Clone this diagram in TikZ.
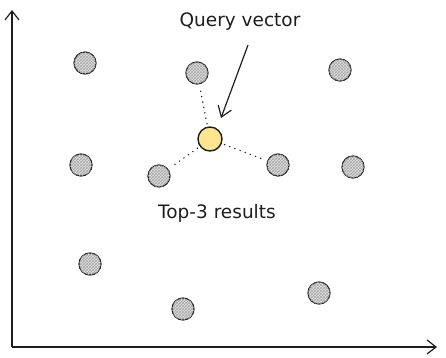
\documentclass[tikz,border=0pt]{standalone}
\usepackage{fontspec}
\setmainfont{DejaVu Sans}
\usetikzlibrary{patterns,arrows.meta}
\definecolor{ink}{HTML}{1E1E1E}
\definecolor{qyellow}{HTML}{FFE58F}
\tikzset{
  pt/.style={circle, draw=ink, line width=1.2pt, minimum size=22pt, inner sep=0pt,
    fill=gray!22, postaction={pattern=crosshatch, pattern color=gray!70}},
  qpt/.style={circle, draw=ink, line width=1.4pt, minimum size=24pt, inner sep=0pt, fill=qyellow},
  axis/.style={draw=ink, line width=1.2pt, -{Straight Barb[length=9pt,width=14pt]}},
  dots/.style={draw=ink, line width=1.6pt, line cap=round, dash pattern=on 0pt off 5.5pt, shorten >=3pt, shorten <=3pt},
  lbl/.style={text=ink, font=\fontsize{18.5}{21}\selectfont}
}
\begin{document}
\begin{tikzpicture}[x=1pt,y=-1pt]
\useasboundingbox (0,0) rectangle (446,357);
\coordinate (o) at (12,347);
\coordinate (ytop) at (12,10);
\coordinate (xend) at (437,347);
\draw[axis] (o) -- (ytop);
\draw[axis] (o) -- (xend);
\node[pt] (p1) at (85,63) {};
\node[pt] (p2) at (197,73) {};
\node[pt] (p3) at (340,70) {};
\node[pt] (p4) at (81,165) {};
\node[pt] (p5) at (159,176) {};
\node[pt] (p6) at (278,165) {};
\node[pt] (p7) at (353,167) {};
\node[pt] (p8) at (90,264) {};
\node[pt] (p9) at (183,309) {};
\node[pt] (p10) at (319,293) {};
\node[qpt] (q) at (210,139) {};
\draw[dots] (q) -- (p2);
\draw[dots] (q) -- (p5);
\draw[dots] (q) -- (p6);
\node[lbl] (ql) at (240,22) {Query vector};
\node[lbl] (tl) at (217,213) {Top-3 results};
\coordinate (as) at (248,45);
\coordinate (ae) at (221,118);
\draw[ink, line width=1.2pt, -{Straight Barb[length=10pt,width=14pt]}] (as) -- (ae);
\end{tikzpicture}
\end{document}
